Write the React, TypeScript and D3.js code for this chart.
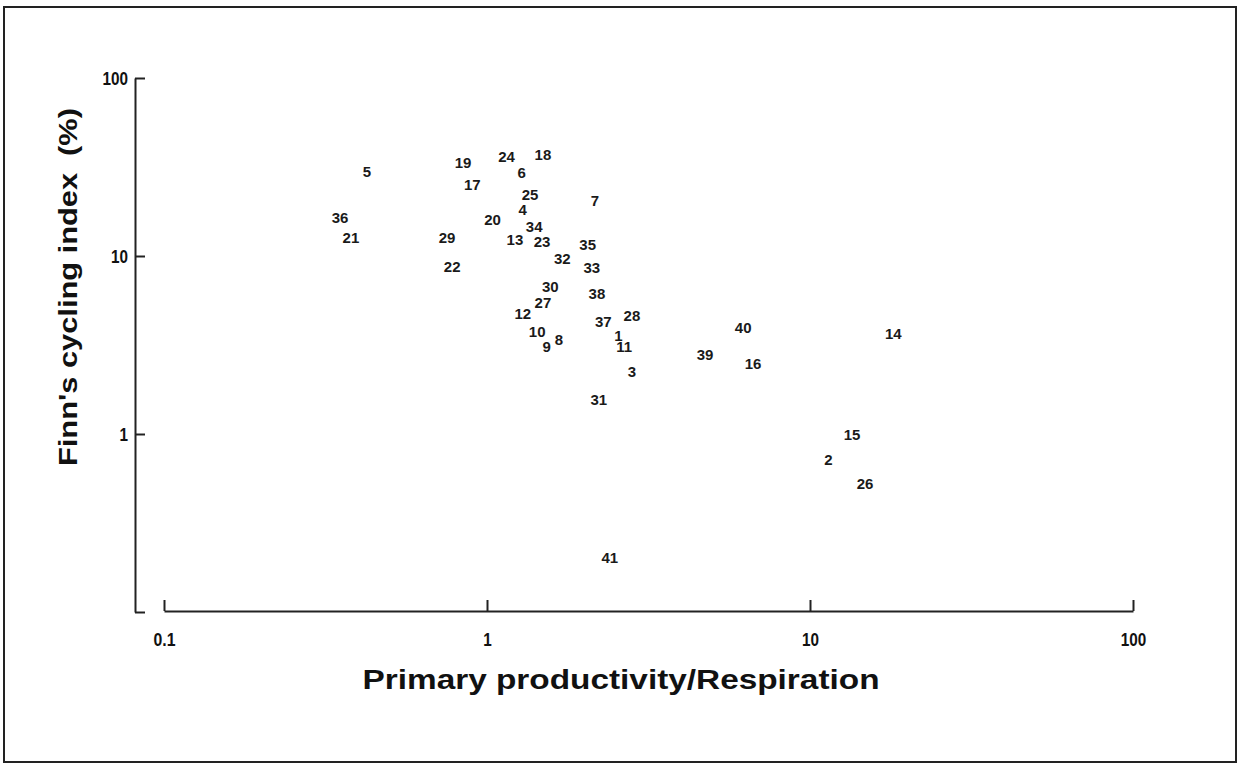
import { useEffect, useRef } from "react";
import * as d3 from "d3";

// ecosystem number, P/R ratio, Finn's cycling index (%)
const ids = [
  1, 2, 3, 4, 5, 6, 7, 8, 9, 10, 11, 12, 13, 14, 15, 16, 17, 18, 19, 20, 21,
  22, 23, 24, 25, 26, 27, 28, 29, 30, 31, 32, 33, 34, 35, 36, 37, 38, 39, 40,
  41,
];
const ratio = [
  2.55, 11.4, 2.81, 1.29, 0.425, 1.28, 2.16, 1.67, 1.53, 1.43, 2.66, 1.29,
  1.22, 18.1, 13.5, 6.66, 0.9, 1.49, 0.843, 1.04, 0.379, 0.78, 1.48, 1.15,
  1.36, 14.8, 1.49, 2.81, 0.752, 1.57, 2.22, 1.71, 2.11, 1.4, 2.05, 0.351,
  2.29, 2.19, 4.73, 6.21, 2.4,
];
const cycling = [
  3.59, 0.715, 2.23, 18.2, 29.7, 29.4, 20.5, 3.41, 3.11, 3.78, 3.11, 4.76,
  12.4, 3.68, 0.987, 2.47, 25.2, 37.0, 33.4, 16.0, 12.7, 8.73, 12.1, 36.1,
  22.1, 0.525, 5.49, 4.64, 12.7, 6.75, 1.57, 9.68, 8.62, 14.6, 11.6, 16.4,
  4.3, 6.17, 2.81, 3.98, 0.202,
];

const xTicks = [0.1, 1, 10, 100];
const yTicks = [0.1, 1, 10, 100];
const yTickLabels = ["", "1", "10", "100"];

const W = 1241;
const H = 766;
const sans = "'Liberation Sans', Arial, sans-serif";

export default function App() {
  const ref = useRef<SVGSVGElement>(null);

  useEffect(() => {
    const svg = d3.select(ref.current);
    svg.selectAll("*").remove();

    const x = d3.scaleLog().domain([0.1, 100]).range([164, 1133]);
    const y = d3.scaleLog().domain([0.1, 100]).range([612, 78]);

    svg
      .append("rect")
      .attr("x", 4)
      .attr("y", 7)
      .attr("width", 1232)
      .attr("height", 755)
      .attr("fill", "white")
      .attr("stroke", "#222")
      .attr("stroke-width", 2);

    // condensed tick digits: squeeze each label to ~8.5px per character
    const tickText = (sel: any) =>
      sel
        .attr("fill", "#111")
        .attr("lengthAdjust", "spacingAndGlyphs")
        .style("font-family", sans)
        .style("font-weight", "bold")
        .style("font-size", "19px");

    // y axis, ticks pointing inward
    const yAxis = svg.append("g").attr("transform", "translate(135,0)");
    yAxis
      .call(
        d3
          .axisRight(y)
          .tickValues(yTicks)
          .tickSize(10)
          .tickSizeOuter(0)
          .tickFormat(() => "")
      )
      .call((g) => g.selectAll("path, line").attr("stroke", "#222").attr("stroke-width", 2));
    yAxis
      .selectAll(".tick")
      .filter((_, i) => yTickLabels[i] !== "")
      .append("text")
      .attr("x", -7)
      .attr("dy", "0.36em")
      .attr("text-anchor", "end")
      .call(tickText)
      .attr("textLength", (d: any) => String(d).length * 8.5)
      .text((d: any) => String(d));

    // x axis, ticks pointing up
    const xAxis = svg.append("g").attr("transform", "translate(0,611)");
    xAxis
      .call(
        d3
          .axisTop(x)
          .tickValues(xTicks)
          .tickSize(11)
          .tickSizeOuter(0)
          .tickFormat(() => "")
      )
      .call((g) => g.selectAll("path, line").attr("stroke", "#222").attr("stroke-width", 2));
    xAxis
      .selectAll(".tick")
      .append("text")
      .attr("y", 35)
      .attr("text-anchor", "middle")
      .call(tickText)
      .attr("textLength", (d: any) => (String(d) === "0.1" ? 22 : String(d).length * 8.5))
      .text((d: any) => String(d));

    svg.selectAll(".domain").attr("stroke", "#222").attr("stroke-width", 2);

    // axis titles
    svg
      .append("text")
      .attr("x", 621)
      .attr("y", 689)
      .attr("text-anchor", "middle")
      .attr("textLength", 517)
      .attr("lengthAdjust", "spacingAndGlyphs")
      .style("font-family", sans)
      .style("font-weight", "bold")
      .style("font-size", "27px")
      .attr("fill", "#111")
      .text("Primary productivity/Respiration");

    svg
      .append("text")
      .attr("transform", "translate(77,287) rotate(-90)")
      .attr("text-anchor", "middle")
      .attr("textLength", 358)
      .attr("lengthAdjust", "spacingAndGlyphs")
      .style("font-family", sans)
      .style("font-weight", "bold")
      .style("font-size", "26px")
      .style("white-space", "pre")
      .attr("fill", "#111")
      .text("Finn's cycling index  (%)");

    // ecosystem numbers as the plotted marks
    svg
      .append("g")
      .selectAll("text")
      .data(ids)
      .join("text")
      .attr("x", (_, i) => x(ratio[i]))
      .attr("y", (_, i) => y(cycling[i]))
      .attr("dy", "0.36em")
      .attr("text-anchor", "middle")
      .attr("fill", "#1a1a1a")
      .style("font-family", sans)
      .style("font-weight", "bold")
      .style("font-size", "15px")
      .text((d) => String(d));
  });

  return (
    <svg
      ref={ref}
      width={W}
      height={H}
      style={{ position: "absolute", left: 0, top: 0, display: "block", background: "white" }}
    />
  );
}
